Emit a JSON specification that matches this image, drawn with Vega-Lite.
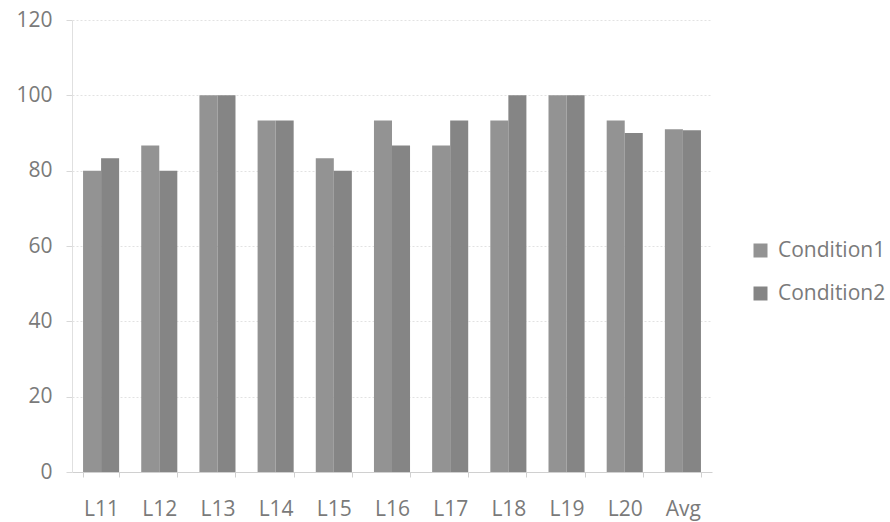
{
  "$schema": "https://vega.github.io/schema/vega-lite/v6.json",
  "width": 640,
  "height": 452,
  "autosize": {"type": "none"},
  "padding": {"left": 72, "top": 20, "right": 178, "bottom": 50},
  "background": "white",
  "config": {"view": {"stroke": null}, "font": "Open Sans"},
  "data": {"values": [
    {"cat": "L11", "cond": "Condition1", "v": 80},
    {"cat": "L11", "cond": "Condition2", "v": 83.3},
    {"cat": "L12", "cond": "Condition1", "v": 86.7},
    {"cat": "L12", "cond": "Condition2", "v": 80},
    {"cat": "L13", "cond": "Condition1", "v": 100},
    {"cat": "L13", "cond": "Condition2", "v": 100},
    {"cat": "L14", "cond": "Condition1", "v": 93.3},
    {"cat": "L14", "cond": "Condition2", "v": 93.3},
    {"cat": "L15", "cond": "Condition1", "v": 83.3},
    {"cat": "L15", "cond": "Condition2", "v": 80},
    {"cat": "L16", "cond": "Condition1", "v": 93.3},
    {"cat": "L16", "cond": "Condition2", "v": 86.7},
    {"cat": "L17", "cond": "Condition1", "v": 86.7},
    {"cat": "L17", "cond": "Condition2", "v": 93.3},
    {"cat": "L18", "cond": "Condition1", "v": 93.3},
    {"cat": "L18", "cond": "Condition2", "v": 100},
    {"cat": "L19", "cond": "Condition1", "v": 100},
    {"cat": "L19", "cond": "Condition2", "v": 100},
    {"cat": "L20", "cond": "Condition1", "v": 93.3},
    {"cat": "L20", "cond": "Condition2", "v": 90},
    {"cat": "Avg", "cond": "Condition1", "v": 91},
    {"cat": "Avg", "cond": "Condition2", "v": 90.7}
  ]},
  "mark": {"type": "bar"},
  "encoding": {
    "x": {
      "field": "cat", "type": "nominal", "sort": null,
      "scale": {"paddingInner": 0.38, "paddingOuter": 0.19},
      "axis": {
        "title": null, "labelAngle": 0, "labelColor": "#7a7a7a", "labelFontSize": 21,
        "labelPadding": 21, "domainColor": "#d0d0d0", "tickColor": "#d0d0d0",
        "tickBand": "extent", "tickSize": 5
      }
    },
    "xOffset": {"field": "cond", "type": "nominal"},
    "y": {
      "field": "v", "type": "quantitative",
      "scale": {"domain": [0, 120]},
      "axis": {
        "title": null, "values": [0, 20, 40, 60, 80, 100, 120], "labelOverlap": false,
        "labelColor": "#7a7a7a", "labelFontSize": 21, "labelPadding": 14,
        "gridColor": "#e2e2e2", "gridDash": [2, 2], "domainColor": "#e0e0e0",
        "tickColor": "#d8d8d8", "tickSize": 6
      }
    },
    "color": {
      "field": "cond", "type": "nominal",
      "scale": {"domain": ["Condition1", "Condition2"], "range": ["#939393", "#858585"]},
      "legend": {
        "title": null, "orient": "none", "legendX": 678, "legendY": 220,
        "symbolType": "square", "symbolSize": 196, "labelFontSize": 21, "labelOffset": 7,
        "labelColor": "#7a7a7a", "rowPadding": 21
      }
    }
  }
}
